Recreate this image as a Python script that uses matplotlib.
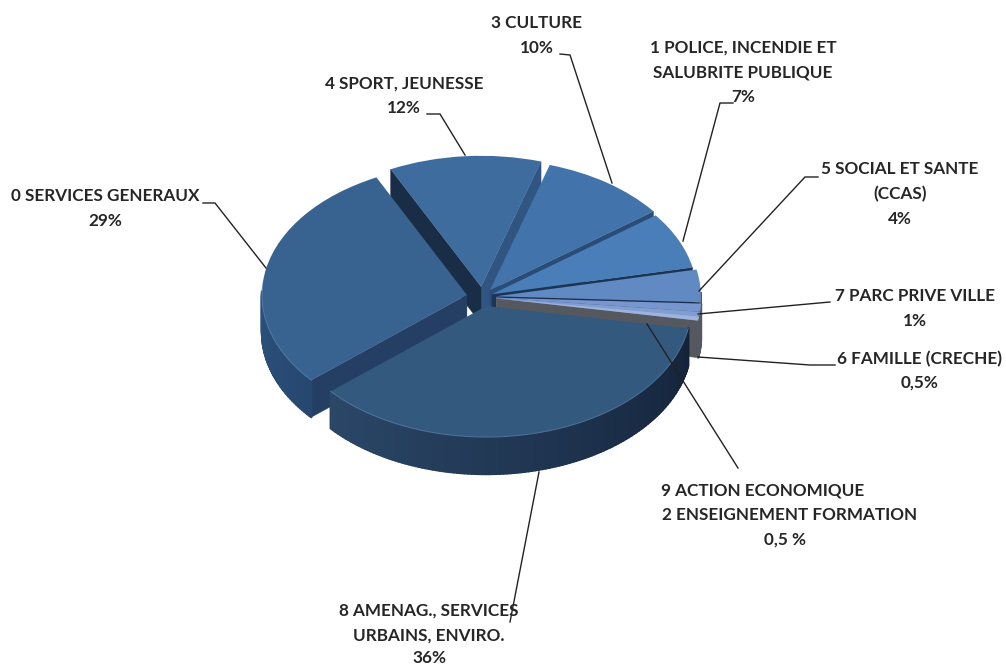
import numpy as np
import matplotlib
matplotlib.use("Agg")
import matplotlib.pyplot as plt
from matplotlib.patches import Polygon
from matplotlib.colors import to_rgb

W, H = 1006, 664
categories = ["3 CULTURE", "1 POLICE, INCENDIE ET SALUBRITE PUBLIQUE", "5 SOCIAL ET SANTE (CCAS)",
              "7 PARC PRIVE VILLE", "6 FAMILLE (CRECHE)", "9 ACTION ECONOMIQUE / 2 ENSEIGNEMENT FORMATION",
              "8 AMENAG., SERVICES URBAINS, ENVIRO.", "0 SERVICES GENERAUX", "4 SPORT, JEUNESSE"]
values = [10, 7, 4, 1, 0.5, 0.5, 36, 29, 12]
explode = [0.063, 0.051, 0.066, 0.068, 0.068, 0.068, 0.072, 0.077, 0.078]
top_colors = ["#4273aa", "#4a7eb8", "#6189c2", "#7696cd", "#819ed3", "#9fb2dc", "#33597f", "#38628f", "#3f6c9f"]
wall_start = ["#264a74", "#1b3558", "#55585f", "#55585f", "#55585f", "#55585f", "#2b4768", "#38628f", "#2f5580"]
wall_end = ["#264a74", "#1b3558", "#55585f", "#55585f", "#55585f", "#55585f", "#14233a", "#264770", "#1a2d47"]
face_cw_end = ["#2a4d78", "#1b3558", "#1d3052", "#7696cd", "#819ed3", "#55585f", "#1a2d47", "#243f63", "#2f5580"]
face_ccw_end = ["#264a74", "#1b3558", "#1d3052", "#33415f", "#55585f", "#55585f", "#1a2d47", "#243f63", "#1a2d47"]
draw_order = [8, 0, 1, 2, 3, 4, 5, 7, 6]

# label text, centre x, centre y per line
label_lines = [
    ("3 CULTURE", 537, 23), ("10%", 537, 48),
    ("1 POLICE, INCENDIE ET", 743, 48), ("SALUBRITE PUBLIQUE", 743, 72), ("7%", 743, 97),
    ("5 SOCIAL ET SANTE", 900, 169), ("(CCAS)", 900, 194), ("4%", 900, 219),
    ("7 PARC PRIVE VILLE", 915, 296), ("1%", 915, 321),
    ("6 FAMILLE (CRECHE)", 920, 359), ("0,5%", 920, 383),
    ("9 ACTION ECONOMIQUE", 763, 490), ("2 ENSEIGNEMENT FORMATION", 790, 515), ("0,5 %", 785, 540),
    ("8 AMENAG., SERVICES", 429, 611), ("URBAINS, ENVIRO.", 429, 636), ("36%", 429, 658),
    ("4 SPORT, JEUNESSE", 404, 84), ("12%", 404, 108),
    ("0 SERVICES GENERAUX", 105, 196), ("29%", 105, 221),
]
leaders = [
    [(560, 54), (570, 55), (612, 183)],
    [(733, 103), (720, 103), (683, 241)],
    [(818, 177), (805, 177), (699, 291)],
    [(830, 302), (698, 314)],
    [(835, 365), (810, 365), (698, 357)],
    [(738, 468), (647, 324)],
    [(510, 622), (539, 472)],
    [(427, 114), (440, 114), (465, 155)],
    [(203, 203), (215, 203), (266, 268)],
]

CX, CY, RX, RY, DEPTH = 482.4, 297.0, 205.0, 131.0, 37.0
START = 17.0
d = DEPTH / RY

fig = plt.figure(figsize=(W / 100, H / 100), dpi=100, facecolor="white")
ax = fig.add_axes([0, 0, 1, 1])
wedges, _ = ax.pie(values, explode=explode, colors=top_colors, startangle=90 - START,
                   counterclock=False, radius=1.0, center=(0, 0),
                   wedgeprops={"linewidth": 0})
ax.set_aspect("auto")
ax.set_xlim((0 - CX) / RX, (W - CX) / RX)
ax.set_ylim((CY - H) / RY, CY / RY)
ax.axis("off")


def lerp(a, b, t):
    a, b = np.array(to_rgb(a)), np.array(to_rgb(b))
    return tuple(a + (b - a) * t)


for rank, i in enumerate(draw_order):
    w = wedges[i]
    z = 10 + rank * 3
    w.set_zorder(z + 2)
    cx, cy = w.center
    t1, t2 = w.theta1, w.theta2
    # side cut faces
    for th, fc, vis in ((t1, face_cw_end[i], np.cos(np.radians(t1)) > 0),
                        (t2, face_ccw_end[i], np.cos(np.radians(t2)) < 0)):
        if vis:
            ex, ey = cx + np.cos(np.radians(th)), cy + np.sin(np.radians(th))
            ax.add_patch(Polygon([(cx, cy), (ex, ey), (ex, ey - d), (cx, cy - d)],
                                 closed=True, fc=fc, ec=fc, lw=0.3, zorder=z))
    # outer rim wall with a gradient, painted left-to-right as overlapping strips
    ths = np.linspace(t1, t2, max(int(t2 - t1), 1) + 1)
    for a, b in zip(ths[:-1], ths[1:]):
        m = np.radians((a + b) / 2)
        if np.sin(m) < 0.02:
            ra, rb = np.radians(a), np.radians(b)
            f = (m - np.radians(t1)) / np.radians(t2 - t1)
            c = lerp(wall_start[i], wall_end[i], f)
            ax.add_patch(Polygon([(cx + np.cos(ra), cy + np.sin(ra)), (cx + np.cos(rb), cy + np.sin(rb)),
                                  (cx + np.cos(rb), cy + np.sin(rb) - d), (cx + np.cos(ra), cy + np.sin(ra) - d)],
                                 closed=True, fc=c, ec=c, lw=1.6, joinstyle="round", zorder=z + 1))
    # light bevel along the front rim
    arc = np.radians(np.linspace(t1, t2, 200))
    arc = arc[np.sin(arc) < 0.1]
    if arc.size > 1 and values[i] > 5:
        ax.plot(cx + np.cos(arc), cy + np.sin(arc), color="#6f93bd", lw=0.7, alpha=0.55, zorder=z + 2.5)

# overlay in pixel coordinates for labels and leaders
ov = fig.add_axes([0, 0, 1, 1], facecolor="none")
ov.set_xlim(0, W)
ov.set_ylim(H, 0)
ov.axis("off")
for pts in leaders:
    xs, ys = zip(*pts)
    ov.plot(xs, ys, color="#222222", lw=1.0, solid_joinstyle="miter")
for txt, x, y in label_lines:
    ov.text(x, y, txt, ha="center", va="center", family="Lato", weight="bold",
            fontsize=12.3, color="#262626", clip_on=False)

fig.savefig("out.png", dpi=100, facecolor="white")
